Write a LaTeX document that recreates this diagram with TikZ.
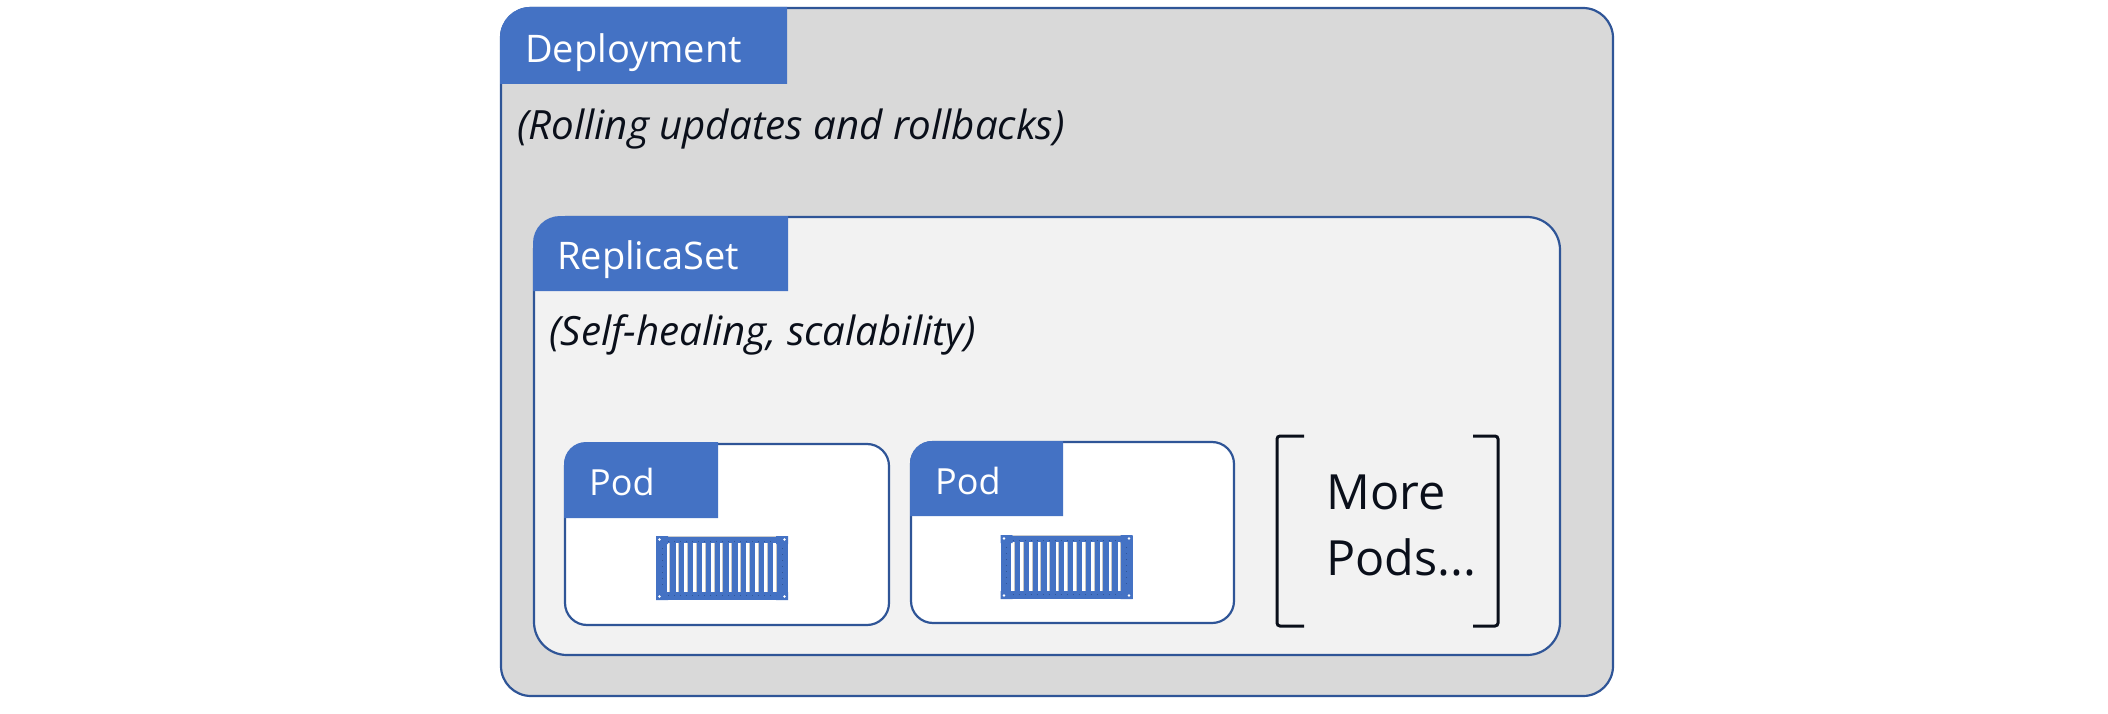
\documentclass[tikz,border=0pt]{standalone}
\usepackage{fontspec}
\setmainfont{Open Sans}
\definecolor{tabblue}{HTML}{4472C4}
\definecolor{edgeblue}{HTML}{2F5597}
\definecolor{outerfill}{HTML}{D9D9D9}
\definecolor{innerfill}{HTML}{F2F2F2}
\definecolor{inkdark}{HTML}{0A0F1A}
\tikzset{
  panel/.style={draw=edgeblue,line width=2.2pt,anchor=north west,inner sep=0pt,outer sep=0pt},
  tabtext/.style={anchor=base west,inner sep=0pt,text=white,font=\fontsize{38}{46}\selectfont},
  podtext/.style={anchor=base west,inner sep=0pt,text=white,font=\fontsize{36}{44}\selectfont},
  notetext/.style={anchor=base west,inner sep=0pt,text=inkdark,font=\fontsize{40.3}{48}\selectfont\itshape},
  moretext/.style={anchor=base west,inner sep=0pt,text=inkdark,font=\fontsize{48.5}{56}\selectfont},
  bracketline/.style={draw=inkdark,line width=3pt,rounded corners=3pt},
}
% #1 x, #2 y of the container's top-left corner
\newcommand{\containericon}[2]{%
  \begin{scope}[shift={(#1,#2)}]
    \fill[tabblue] (0,1) rectangle (132,64);
    \draw[black!20,line width=1pt] (12,0.5) -- (120,0.5);
    \foreach \i in {0,...,12} {
      \fill[white] (10.7+8.86*\i,7) rectangle ++(2.6,49);
      \fill[black!22] (13.3+8.86*\i,7) rectangle ++(0.8,49);
    }
    \fill[tabblue] (0,0) rectangle (12,8) (120,0) rectangle (132,8)
                   (0,56) rectangle (12,64) (120,56) rectangle (132,64);
    \fill[white] (3.5,3.5) circle (1.4) (128.5,3.5) circle (1.4)
                 (3.5,60.5) circle (1.4) (128.5,60.5) circle (1.4);
    \draw[edgeblue,line width=0.8pt,dash pattern=on 1pt off 5pt] (12,5.5) -- (120,5.5) (12,59) -- (120,59)
          (6,12) -- (6,52) (126,12) -- (126,52);
  \end{scope}}
% #1 left, #2 top, #3 right, #4 bottom, #5 radius of the tab's rounded top-left corner
\newcommand{\tabshape}[5]{%
  \fill[tabblue] (#1,#4) -- (#1,#2+#5) arc[start angle=180,end angle=90,x radius=#5,y radius=-#5] -- (#3,#2) -- (#3,#4) -- cycle;}
\begin{document}
\begin{tikzpicture}[x=1pt,y=-1pt]
\useasboundingbox (0,0) rectangle (2108,714);
% Deployment
\node[panel,fill=outerfill,rounded corners=30pt,minimum width=1112pt,minimum height=688pt] (deployment) at (501,8) {};
\tabshape{500}{7}{787}{84}{30}
\node[tabtext] (deploymentlabel) at (525,62.5) {Deployment};
\node[notetext] (deploymentnote) at (517,140) {(Rolling updates and rollbacks)};
% ReplicaSet
\node[panel,fill=innerfill,rounded corners=33pt,minimum width=1026pt,minimum height=438pt] (replicaset) at (534,217) {};
\tabshape{533}{216}{788}{291}{27}
\node[tabtext] (replicasetlabel) at (557,269) {ReplicaSet};
\node[notetext] (replicasetnote) at (549,345.5) {(Self-healing, scalability)};
% Pod 1
\node[panel,fill=white,rounded corners=22pt,minimum width=324pt,minimum height=181pt] (podone) at (565,444) {};
\tabshape{564}{442}{718}{518}{22}
\node[podtext] (podonelabel) at (589,495) {Pod};
\containericon{656}{536}
% Pod 2
\node[panel,fill=white,rounded corners=22pt,minimum width=323pt,minimum height=181pt] (podtwo) at (911,442) {};
\tabshape{910}{441}{1063}{516}{22}
\node[podtext] (podtwolabel) at (935,494) {Pod};
\containericon{1000.5}{535}
% More Pods
\draw[bracketline] (1304,436) -- (1277,436) -- (1277,626) -- (1304,626);
\draw[bracketline] (1473,436) -- (1498,436) -- (1498,626) -- (1473,626);
\node[moretext] (more) at (1326,509) {More};
\node[moretext] (pods) at (1326,575.5) {Pods...};
\end{tikzpicture}
\end{document}
